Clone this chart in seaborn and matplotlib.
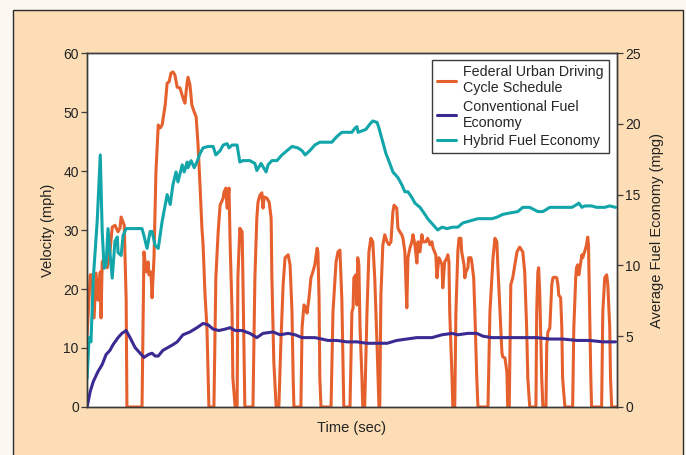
"""
Federal Urban Driving Cycle velocity vs. average fuel economy
(conventional and hybrid) over time.
"""

import numpy as np
import pandas as pd
import matplotlib.pyplot as plt
import seaborn as sns
from matplotlib.patches import Rectangle

# --- data --------------------------------------------------------------------
# velocity schedule (time in s, speed in mph)
fuds_time = [0, 8, 13, 18, 23, 28, 34, 36, 39, 47, 52, 59, 65, 72, 80, 85, 88, 96, 101, 103,
             142, 147, 153, 158, 160, 165, 168, 173, 178, 184, 189, 194, 202, 207, 212, 217,
             222, 227, 233, 240, 248, 253, 258, 261, 266, 271, 277, 282, 287, 292, 297, 300,
             305, 310, 315, 328, 333, 339, 344, 352, 354, 359, 362, 367, 370, 375, 377, 383,
             388, 390, 395, 401, 403, 408, 429, 434, 439, 442, 447, 452, 455, 458, 465, 471,
             476, 478, 483, 489, 496, 501, 507, 512, 520, 525, 530, 533, 535, 553, 556, 561,
             566, 569, 574, 579, 584, 589, 595, 597, 600, 602, 605, 631, 636, 644, 649, 654,
             659, 664, 680, 685, 688, 690, 695, 698, 700, 703, 706, 711, 713, 718, 724, 729,
             734, 739, 744, 750, 755, 757, 760, 765, 770, 776, 781, 786, 791, 794, 801, 804,
             809, 814, 817, 822, 827, 830, 835, 840, 843, 848, 853, 856, 861, 866, 869, 876,
             881, 887, 892, 895, 902, 905, 910, 915, 918, 920, 925, 931, 933, 936, 938, 944,
             946, 951, 954, 959, 962, 967, 969, 975, 977, 980, 985, 987, 993, 995, 1000, 1003,
             1008, 1011, 1037, 1042, 1050, 1055, 1060, 1062, 1068, 1073, 1075, 1081, 1086,
             1088, 1092, 1096, 1101, 1112, 1119, 1127, 1132, 1137, 1140, 1145, 1161, 1163,
             1166, 1168, 1171, 1176, 1179, 1187, 1189, 1192, 1197, 1202, 1205, 1210, 1215,
             1218, 1220, 1225, 1228, 1230, 1236, 1256, 1259, 1264, 1266, 1269, 1272, 1277,
             1280, 1282, 1287, 1292, 1295, 1297, 1300, 1303, 1305, 1331, 1334, 1339, 1344,
             1347, 1352, 1354, 1357, 1370]
fuds_mph = [12.2, 22.4, 22.4, 15.1, 22.7, 18.1, 22.9, 15.1, 24.6, 25.3, 23.6, 26.3, 30.5, 30.8,
            29.7, 30.3, 32.2, 30.8, 18.1, 0,
            0, 26.3, 22.9, 24.6, 22.4, 22.9, 18.5, 25.3, 39.8, 47.8, 47.3, 47.8, 51.2, 54.9,
            55.1, 56.6, 56.8, 56.3, 54.2, 54.1, 52.4, 51.5, 54.6, 55.9, 54.6, 51.2, 50.0, 49.2,
            44.4, 37.6, 30.3, 27.5, 19.0, 13.4, 0, 0, 21.9, 29.7, 34.2, 35.4, 36.4, 37.1, 33.7,
            37.1, 27.5, 16.1, 4.9, 0, 0, 21.9, 30.3, 29.7, 21.9, 0, 0, 21.9, 32.0, 34.7, 35.9,
            36.3, 33.7, 35.6, 35.4, 34.7, 32.0, 21.9, 7.6, 0, 0, 10.5, 20.7, 25.3, 25.8, 24.1,
            16.1, 4.9, 0, 0, 13.4, 17.3, 16.8, 15.9, 18.5, 21.9, 22.9, 24.1, 26.9, 26.3, 18.5,
            4.9, 0, 0, 16.1, 24.6, 26.3, 26.6, 18.1, 0, 0, 16.1, 16.8, 21.9, 22.4, 17.3, 25.3,
            24.1, 13.4, 4.9, 0, 0, 16.1, 26.3, 28.6, 28.0, 21.9, 10.5, 0, 0, 19.0, 27.5, 29.2,
            28.0, 27.5, 28.0, 33.1, 34.2, 33.7, 30.3, 29.7, 29.2, 28.6, 26.3, 16.8, 25.3, 26.9,
            28.0, 29.2, 27.5, 24.4, 28.0, 26.3, 29.2, 28.0, 28.0, 28.6, 27.5, 28.0, 26.9, 25.8,
            21.9, 25.3, 24.6, 24.1, 20.2, 24.6, 25.3, 25.8, 24.6, 16.1, 4.9, 0, 0, 16.1, 26.3,
            28.6, 28.6, 26.3, 24.1, 21.9, 22.9, 23.6, 25.3, 25.3, 24.6, 21.9, 16.1, 4.9, 0, 0,
            16.1, 25.3, 28.6, 28.0, 24.6, 16.1, 9.3, 8.5, 8.3, 5.9, 0, 0, 20.7, 21.9, 26.3, 27.1,
            26.3, 22.9, 13.4, 4.9, 0, 0, 16.1, 22.9, 23.6, 19.0, 4.9, 0, 0, 10.5, 12.7, 13.4,
            20.7, 21.9, 22.0, 21.9, 20.7, 19.0, 18.5, 13.4, 4.9, 0, 0, 13.4, 21.9, 23.6, 24.1,
            22.4, 24.6, 25.8, 25.3, 26.3, 27.5, 28.8, 27.5, 16.1, 4.9, 0, 0, 16.1, 21.9, 22.4,
            20.7, 13.4, 4.9, 0, 0]

# conventional vehicle average fuel economy (mpg)
conv_time = [0, 8, 16, 28, 39, 49, 59, 67, 80, 90, 101, 111, 124, 137, 147, 158, 168, 176, 184,
             196, 209, 222, 233, 248, 266, 284, 300, 313, 326, 341, 357, 370, 383, 401, 421,
             439, 455, 481, 499, 520, 538, 556, 571, 589, 607, 623, 646, 672, 698, 724, 750,
             776, 801, 827, 853, 892, 918, 944, 959, 985, 1008, 1024, 1047, 1073, 1101, 1127,
             1163, 1197, 1230, 1267, 1300, 1334, 1367]
conv_mpg = [0, 1.1, 1.8, 2.5, 3.0, 3.7, 4.0, 4.4, 4.9, 5.2, 5.4, 4.9, 4.2, 3.8, 3.5, 3.7, 3.8,
            3.6, 3.6, 4.0, 4.2, 4.4, 4.6, 5.1, 5.3, 5.6, 5.9, 5.8, 5.5, 5.4, 5.5, 5.6, 5.4, 5.4,
            5.2, 4.9, 5.2, 5.3, 5.1, 5.2, 5.1, 4.9, 4.9, 4.9, 4.8, 4.7, 4.7, 4.6, 4.6, 4.5, 4.5,
            4.5, 4.7, 4.8, 4.9, 4.9, 5.1, 5.2, 5.1, 5.2, 5.2, 5.0, 4.9, 4.9, 4.9, 4.9, 4.9, 4.8,
            4.8, 4.7, 4.7, 4.6, 4.6]

# hybrid vehicle average fuel economy (mpg)
hyb_time = [0, 5, 10, 16, 26, 34, 39, 44, 49, 54, 59, 65, 72, 78, 80, 88, 93, 101, 142, 147,
            155, 163, 168, 176, 184, 194, 207, 215, 222, 230, 235, 246, 251, 259, 261, 269,
            277, 284, 292, 300, 313, 326, 333, 344, 352, 362, 367, 375, 388, 395, 403, 421,
            434, 439, 450, 463, 468, 478, 491, 504, 517, 530, 545, 556, 564, 576, 589, 602,
            620, 633, 646, 659, 685, 693, 698, 701, 711, 721, 732, 739, 750, 755, 765, 773,
            783, 791, 804, 814, 822, 830, 840, 848, 861, 874, 881, 894, 907, 918, 931, 946,
            959, 972, 985, 998, 1011, 1029, 1047, 1060, 1075, 1093, 1114, 1127, 1145, 1166,
            1179, 1197, 1223, 1254, 1267, 1272, 1280, 1287, 1305, 1318, 1326, 1339, 1352, 1367]
hyb_mpg = [2.0, 4.9, 4.6, 9.1, 13.1, 17.8, 12.4, 9.8, 10.0, 12.6, 10.9, 9.1, 11.7, 12.0, 10.9,
           10.7, 12.1, 12.6, 12.6, 12.1, 11.2, 12.4, 12.4, 11.4, 11.2, 13.1, 15.0, 14.3, 15.7,
           16.6, 15.9, 17.1, 16.6, 17.3, 16.9, 17.4, 16.9, 17.3, 17.9, 18.3, 18.4, 18.4, 17.8,
           18.1, 18.5, 18.6, 18.3, 18.5, 18.5, 17.3, 17.4, 17.4, 17.2, 16.7, 17.2, 16.6, 17.1,
           17.4, 17.4, 17.8, 18.1, 18.4, 18.3, 18.1, 17.8, 18.1, 18.5, 18.7, 18.7, 18.7, 19.1,
           19.4, 19.4, 19.7, 19.8, 19.4, 19.5, 19.6, 20.0, 20.2, 20.1, 19.7, 18.7, 17.9, 17.2,
           16.6, 16.2, 15.7, 15.2, 15.2, 14.8, 14.4, 14.1, 13.6, 13.3, 12.9, 12.5, 12.7, 12.6,
           12.7, 12.7, 13.0, 13.1, 13.2, 13.3, 13.3, 13.3, 13.4, 13.6, 13.7, 13.8, 14.1, 14.1,
           13.8, 13.8, 14.1, 14.1, 14.1, 14.3, 14.4, 14.1, 14.2, 14.2, 14.1, 14.1, 14.1, 14.2,
           14.1]

labels = ["Federal Urban Driving\nCycle Schedule", "Conventional Fuel\nEconomy",
          "Hybrid Fuel Economy"]
colors = ["#E5602D", "#3C2A93", "#12A5A9"]

# --- styling -----------------------------------------------------------------
sns.set_style("white")
plt.rcParams['font.family'] = ['Liberation Sans', 'DejaVu Sans']

peach = "#FDDDB6"
fig = plt.figure(figsize=(6.86, 4.55), dpi=100)
fig.patch.set_facecolor("#FDF7F2")
# framed peach panel behind the chart
fig.patches.append(Rectangle((0.019, -0.02), 0.976, 0.998, transform=fig.transFigure,
                             facecolor=peach, edgecolor="#2b2b2b", linewidth=1.0,
                             zorder=-10))

ax = fig.add_axes([0.127, 0.1055, 0.772, 0.778])
ax2 = ax.twinx()
ax.set_facecolor("white")

fuds = pd.DataFrame({"t": fuds_time, "v": fuds_mph})
conv = pd.DataFrame({"t": conv_time, "mpg": conv_mpg})
hyb = pd.DataFrame({"t": hyb_time, "mpg": hyb_mpg})

lw = 2.2
sns.lineplot(data=fuds, x="t", y="v", ax=ax, color=colors[0], linewidth=lw,
             estimator=None, sort=False)
sns.lineplot(data=conv, x="t", y="mpg", ax=ax2, color=colors[1], linewidth=lw,
             estimator=None, sort=False)
sns.lineplot(data=hyb, x="t", y="mpg", ax=ax2, color=colors[2], linewidth=lw,
             estimator=None, sort=False)

ax.set_xlim(0, 1370)
ax.set_ylim(0, 60)
ax2.set_ylim(0, 25)
ax.set_yticks(np.arange(0, 61, 10))
ax2.set_yticks(np.arange(0, 26, 5))
ax.set_xticks([])

for a in (ax, ax2):
    for s in a.spines.values():
        s.set_color("#3a3a3a")
        s.set_linewidth(1.0)
    a.tick_params(axis="y", length=4, width=0.9, color="#3a3a3a",
                  labelsize=10, labelcolor="#222222", pad=2)

ax.set_xlabel("Time (sec)", fontsize=10.5, color="#222222", labelpad=10)
ax.set_ylabel("Velocity (mph)", fontsize=10.5, color="#222222", labelpad=6)
ax2.set_ylabel("Average Fuel Economy (mpg)", fontsize=10.5, color="#222222", labelpad=7)

handles = [plt.Line2D([], [], color=c, linewidth=2.2) for c in colors]
leg = ax2.legend(handles, labels, loc="upper right", bbox_to_anchor=(0.985, 0.98),
                 borderaxespad=0, fontsize=10.3, frameon=True, fancybox=False,
                 handlelength=1.3, handletextpad=0.5, labelspacing=0.3,
                 borderpad=0.35)
leg.get_frame().set_edgecolor("#3a3a3a")
leg.get_frame().set_linewidth(1.0)
leg.get_frame().set_alpha(1)

plt.savefig("out.png", dpi=100, facecolor=fig.get_facecolor())
